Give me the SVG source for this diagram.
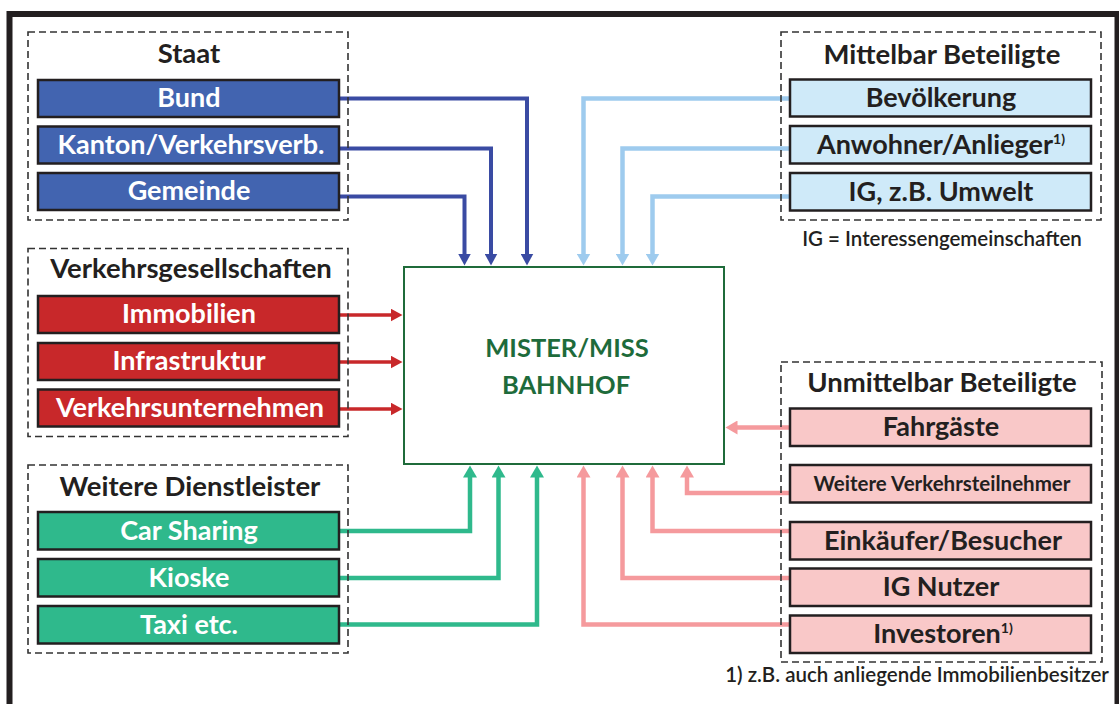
<svg xmlns="http://www.w3.org/2000/svg" width="1119" height="704" viewBox="0 0 1119 704">
  <style>
    text { font-family: Lato, "Open Sans", "Liberation Sans", sans-serif; font-weight: bold; text-anchor: middle; }
    .frame { fill: none; stroke: #231f20; stroke-width: 6; }
    .group { fill: none; stroke: #333; stroke-width: 1.6; stroke-dasharray: 7 4; }
    .title { font-size: 27.5px; fill: #231f20; }
    .node { stroke: #231f20; stroke-width: 2.5; }
    .lbl { font-size: 27px; }
    .white { fill: #ffffff; }
    .dark { fill: #231f20; }
    .staat { fill: #4264b0; }
    .vg { fill: #c8282a; }
    .wd { fill: #2fb98c; }
    .mb { fill: #cfeaf9; }
    .ub { fill: #f9c8c8; }
    .note { font-size: 20.5px; fill: #231f20; font-weight: 600; }
    .sup { font-size: 14px; }
    .core { fill: #ffffff; stroke: #1f6b3a; stroke-width: 2; }
    .core-text { font-size: 25.5px; fill: #1e6b3b; }
    .c { fill: none; stroke-linejoin: miter; }
    .c-blue { stroke: #3a4ba3; stroke-width: 4; }
    .c-lblue { stroke: #9ecbee; stroke-width: 4.5; }
    .c-red { stroke: #c8282a; stroke-width: 3.5; }
    .c-green { stroke: #2fb98c; stroke-width: 4.5; }
    .c-pink { stroke: #f59a9d; stroke-width: 4.5; }
  </style>
  <defs>
    <marker id="ah-blue" markerUnits="userSpaceOnUse" markerWidth="13" markerHeight="13" refX="0.5" refY="6.5" orient="auto">
      <path d="M0,0 L12,6.5 L0,13 Z" fill="#3a4ba3"/>
    </marker>
    <marker id="ah-lblue" markerUnits="userSpaceOnUse" markerWidth="13" markerHeight="14" refX="0.5" refY="7" orient="auto">
      <path d="M0,0 L12,7 L0,14 Z" fill="#9ecbee"/>
    </marker>
    <marker id="ah-red" markerUnits="userSpaceOnUse" markerWidth="13" markerHeight="13" refX="0.5" refY="6.5" orient="auto">
      <path d="M0,0 L12,6.5 L0,13 Z" fill="#c8282a"/>
    </marker>
    <marker id="ah-green" markerUnits="userSpaceOnUse" markerWidth="13" markerHeight="14" refX="0.5" refY="7" orient="auto">
      <path d="M0,0 L12,7 L0,14 Z" fill="#2fb98c"/>
    </marker>
    <marker id="ah-pink" markerUnits="userSpaceOnUse" markerWidth="13" markerHeight="14" refX="0.5" refY="7" orient="auto">
      <path d="M0,0 L12,7 L0,14 Z" fill="#f59a9d"/>
    </marker>
  </defs>

  <!-- outer frame -->
  <rect class="frame" x="9.5" y="14" width="1108" height="730"/>

  <!-- connectors -->
  <g id="connectors">
    <path class="c c-blue" d="M339,98.5 H527 V254" marker-end="url(#ah-blue)"/>
    <path class="c c-blue" d="M339,148.5 H491 V254" marker-end="url(#ah-blue)"/>
    <path class="c c-blue" d="M339,196.5 H464.5 V254" marker-end="url(#ah-blue)"/>

    <path class="c c-lblue" d="M790,98.5 H583.5 V254" marker-end="url(#ah-lblue)"/>
    <path class="c c-lblue" d="M790,148.5 H622.5 V254" marker-end="url(#ah-lblue)"/>
    <path class="c c-lblue" d="M790,196.5 H652.5 V254" marker-end="url(#ah-lblue)"/>

    <path class="c c-red" d="M339,315 H391" marker-end="url(#ah-red)"/>
    <path class="c c-red" d="M339,362 H391" marker-end="url(#ah-red)"/>
    <path class="c c-red" d="M339,409 H391" marker-end="url(#ah-red)"/>

    <path class="c c-green" d="M339,531 H470 V477" marker-end="url(#ah-green)"/>
    <path class="c c-green" d="M339,578 H498.5 V477" marker-end="url(#ah-green)"/>
    <path class="c c-green" d="M339,624.5 H537 V477" marker-end="url(#ah-green)"/>

    <path class="c c-pink" d="M790,427.5 H737" marker-end="url(#ah-pink)"/>
    <path class="c c-pink" d="M790,493 H687 V477" marker-end="url(#ah-pink)"/>
    <path class="c c-pink" d="M790,531 H652.5 V477" marker-end="url(#ah-pink)"/>
    <path class="c c-pink" d="M790,578 H622.5 V477" marker-end="url(#ah-pink)"/>
    <path class="c c-pink" d="M790,624.5 H583.5 V477" marker-end="url(#ah-pink)"/>
  </g>

  <!-- central node -->
  <g id="bahnhof">
    <rect class="core" x="404" y="267" width="320" height="197"/>
    <text class="core-text" x="567" y="357">MISTER/MISS</text>
    <text class="core-text" x="566" y="394">BAHNHOF</text>
  </g>

  <!-- Staat -->
  <g id="staat">
    <rect class="group" x="28" y="32" width="320" height="188"/>
    <text class="title" x="189" y="63">Staat</text>
  </g>
  <g id="bund">
    <rect class="node staat" x="38" y="80" width="301" height="37"/>
    <text class="lbl white" x="189" y="107">Bund</text>
  </g>
  <g id="kanton">
    <rect class="node staat" x="38" y="126.5" width="301" height="37"/>
    <text class="lbl white" x="191" y="154">Kanton/Verkehrsverb.</text>
  </g>
  <g id="gemeinde">
    <rect class="node staat" x="38" y="173" width="301" height="37"/>
    <text class="lbl white" x="189" y="200">Gemeinde</text>
  </g>

  <!-- Verkehrsgesellschaften -->
  <g id="verkehrsgesellschaften">
    <rect class="group" x="28" y="248.5" width="320" height="188"/>
    <text class="title" x="191" y="278">Verkehrsgesellschaften</text>
  </g>
  <g id="immobilien">
    <rect class="node vg" x="38" y="296" width="301" height="37"/>
    <text class="lbl white" x="189" y="323">Immobilien</text>
  </g>
  <g id="infrastruktur">
    <rect class="node vg" x="38" y="343" width="301" height="37"/>
    <text class="lbl white" x="189" y="370">Infrastruktur</text>
  </g>
  <g id="verkehrsunternehmen">
    <rect class="node vg" x="38" y="389.5" width="301" height="37"/>
    <text class="lbl white" x="190" y="416.5">Verkehrsunternehmen</text>
  </g>

  <!-- Weitere Dienstleister -->
  <g id="dienstleister">
    <rect class="group" x="28" y="465" width="320" height="188"/>
    <text class="title" x="190" y="496">Weitere Dienstleister</text>
  </g>
  <g id="carsharing">
    <rect class="node wd" x="38" y="512" width="301" height="37.5"/>
    <text class="lbl white" x="189" y="539.5">Car Sharing</text>
  </g>
  <g id="kioske">
    <rect class="node wd" x="38" y="559" width="301" height="37.5"/>
    <text class="lbl white" x="189" y="586.5">Kioske</text>
  </g>
  <g id="taxi">
    <rect class="node wd" x="38" y="606" width="301" height="37.5"/>
    <text class="lbl white" x="189" y="633.5">Taxi etc.</text>
  </g>

  <!-- Mittelbar Beteiligte -->
  <g id="mittelbar">
    <rect class="group" x="781" y="32" width="320" height="188"/>
    <text class="title" x="942" y="63.5">Mittelbar Beteiligte</text>
    <text class="note" x="942" y="246">IG = Interessengemeinschaften</text>
  </g>
  <g id="bevoelkerung">
    <rect class="node mb" x="790" y="79.5" width="301" height="37"/>
    <text class="lbl dark" x="941" y="107">Bevölkerung</text>
  </g>
  <g id="anwohner">
    <rect class="node mb" x="790" y="126" width="301" height="37.5"/>
    <text class="lbl dark" x="941" y="154">Anwohner/Anlieger<tspan class="sup" dy="-10">1)</tspan></text>
  </g>
  <g id="ig-umwelt">
    <rect class="node mb" x="790" y="173" width="301" height="37.5"/>
    <text class="lbl dark" x="941" y="200.5">IG, z.B. Umwelt</text>
  </g>

  <!-- Unmittelbar Beteiligte -->
  <g id="unmittelbar">
    <rect class="group" x="781" y="362" width="321" height="300"/>
    <text class="title" x="942" y="392">Unmittelbar Beteiligte</text>
    <text class="note" x="917" y="682">1) z.B. auch anliegende Immobilienbesitzer</text>
  </g>
  <g id="fahrgaeste">
    <rect class="node ub" x="790" y="408.5" width="301" height="37.5"/>
    <text class="lbl dark" x="941" y="436">Fahrgäste</text>
  </g>
  <g id="verkehrsteilnehmer">
    <rect class="node ub" x="790" y="465" width="301" height="37.5"/>
    <text class="dark" style="font-size:20.5px" x="942" y="491">Weitere Verkehrsteilnehmer</text>
  </g>
  <g id="einkaeufer">
    <rect class="node ub" x="790" y="522" width="301" height="37.5"/>
    <text class="lbl dark" x="943" y="549.5">Einkäufer/Besucher</text>
  </g>
  <g id="ig-nutzer">
    <rect class="node ub" x="790" y="568.5" width="301" height="37.5"/>
    <text class="lbl dark" x="941" y="596">IG Nutzer</text>
  </g>
  <g id="investoren">
    <rect class="node ub" x="790" y="615.5" width="301" height="37.5"/>
    <text class="lbl dark" x="943" y="643">Investoren<tspan class="sup" dy="-10">1)</tspan></text>
  </g>
</svg>
